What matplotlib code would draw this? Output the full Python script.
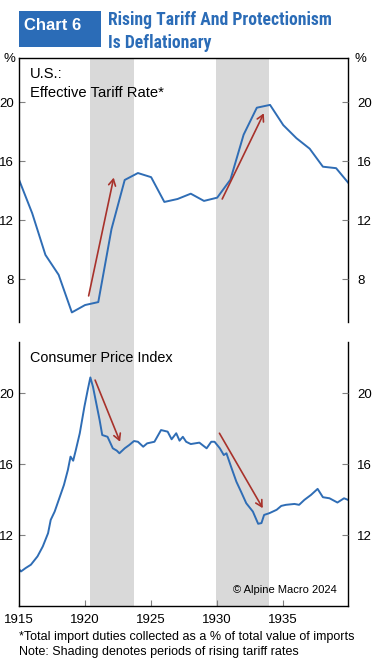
import matplotlib.pyplot as plt
from matplotlib.patches import Rectangle

# effective tariff rate, annual
tariff_years = list(range(1915, 1941))
tariff_rate = [14.75, 12.47, 9.65, 8.3, 5.75, 6.25, 6.45, 11.4, 14.73, 15.2,
               14.92, 13.24, 13.44, 13.8, 13.31, 13.53, 14.75, 17.8, 19.63, 19.82,
               18.45, 17.56, 16.85, 15.63, 15.53, 14.45]

# consumer price index
cpi_time = [1915.0, 1915.15, 1915.5, 1915.9, 1916.4, 1916.8, 1917.2, 1917.4, 1917.7, 1918.05,
            1918.4, 1918.7, 1918.9, 1919.1, 1919.3, 1919.6, 1919.95, 1920.2, 1920.4, 1920.6,
            1920.8, 1921.1, 1921.3, 1921.7, 1922.1, 1922.4, 1922.6, 1923.0, 1923.35, 1923.7,
            1924.0, 1924.4, 1924.7, 1925.25, 1925.75, 1926.25, 1926.55, 1926.9, 1927.15, 1927.4,
            1927.65, 1928.0, 1928.65, 1929.2, 1929.55, 1929.8, 1930.2, 1930.5, 1930.7, 1931.05,
            1931.45, 1931.8, 1932.2, 1932.7, 1933.1, 1933.35, 1933.55, 1933.95, 1934.5, 1934.85,
            1935.2, 1935.85, 1936.2, 1936.6, 1937.1, 1937.6, 1938.0, 1938.5, 1939.1, 1939.6,
            1939.9]
cpi = [10.08, 9.95, 10.14, 10.33, 10.8, 11.36, 12.11, 12.86, 13.33, 14.08,
       14.83, 15.68, 16.43, 16.2, 16.8, 17.75, 19.25, 20.19, 20.9, 20.37,
       19.62, 18.5, 17.65, 17.55, 16.9, 16.77, 16.62, 16.9, 17.09, 17.31,
       17.27, 16.99, 17.18, 17.27, 17.93, 17.84, 17.41, 17.75, 17.33, 17.55,
       17.27, 17.14, 17.22, 16.9, 17.27, 17.27, 16.9, 16.52, 16.62, 15.86,
       15.02, 14.46, 13.8, 13.33, 12.64, 12.68, 13.14, 13.24, 13.43, 13.65,
       13.71, 13.76, 13.71, 13.99, 14.27, 14.61, 14.14, 14.08, 13.84, 14.08,
       13.99]

shade_periods = [(1920.4, 1923.7), (1929.9, 1933.9)]
tariff_arrows = [((1920.27, 6.87), (1922.17, 14.89)), ((1930.38, 13.44), (1933.53, 19.25))]
cpi_arrows = [((1920.76, 20.75), (1922.65, 17.27)), ((1930.17, 17.75), (1933.45, 13.52))]
top_yticks = [8, 12, 16, 20]
bot_yticks = [12, 16, 20]
xticks = [1915, 1920, 1925, 1930, 1935]

blue = '#2F6DB5'
red = '#A8322B'
grey = '#D9D9D9'
plt.rcParams['font.family'] = ['Liberation Sans', 'DejaVu Sans']
narrow = ['Roboto Condensed', 'Liberation Sans']

fig = plt.figure(figsize=(3.9, 6.67), dpi=100)
W, H = 390, 667
def box(x0, y0, x1, y1):
    return [x0 / W, 1 - y1 / H, (x1 - x0) / W, (y1 - y0) / H]

xlim = (1915, 1939.9)

# shading behind both panels
bg = fig.add_axes(box(19, 58, 348, 606))
for a, b in shade_periods:
    bg.axvspan(a, b, color=grey, lw=0)
bg.set_xlim(xlim)
bg.axis('off')

top = fig.add_axes(box(19, 58, 348, 322))
bot = fig.add_axes(box(19, 342, 348, 606))

for ax, yt, ylim in ((top, top_yticks, (5.1, 23.0)), (bot, bot_yticks, (8.0, 22.9))):
    ax.patch.set_alpha(0)
    ax.set_xlim(xlim)
    ax.set_ylim(ylim)
    ax.set_yticks(yt)
    ax.tick_params(axis='y', direction='in', length=4, color='#808080', labelsize=9.5,
                   left=True, right=True, labelleft=True, labelright=False, pad=3.5)
    for s in ax.spines.values():
        s.set_linewidth(1.0)
    # right-hand labels sit a little further out
    rt = ax.twinx()
    rt.set_ylim(ylim)
    rt.set_yticks(yt)
    rt.tick_params(axis='y', direction='in', length=4, color='#808080', labelsize=9.5, pad=6.5)
    for s in rt.spines.values():
        s.set_visible(False)

top.plot(tariff_years, tariff_rate, color=blue, lw=1.4)
top.spines['bottom'].set_visible(False)
top.set_xticks([])
top.text(0.034, 0.965, 'U.S.:\nEffective Tariff Rate*', transform=top.transAxes,
         fontsize=10.6, va='top', ha='left', linespacing=1.4)

bot.plot(cpi_time, cpi, color=blue, lw=1.4)
bot.spines['top'].set_visible(False)
bot.set_xticks(xticks)
bot.tick_params(axis='x', direction='in', length=4, color='#808080', labelsize=9.5, pad=6)
bot.text(0.034, 0.965, 'Consumer Price Index', transform=bot.transAxes,
         fontsize=10.4, va='top', ha='left')
bot.text(0.965, 0.04, '\u00a9 Alpine Macro 2024', transform=bot.transAxes,
         fontsize=8, va='bottom', ha='right')

for ax, arrows in ((top, tariff_arrows), (bot, cpi_arrows)):
    for start, end in arrows:
        ax.annotate('', xy=end, xytext=start,
                    arrowprops=dict(arrowstyle='->,head_length=0.45,head_width=0.25',
                                    color=red, lw=1.2, shrinkA=0, shrinkB=0))

fig.text(9 / W, 1 - 59 / H, '%', fontsize=9.5, ha='center', va='center')
fig.text(360 / W, 1 - 59 / H, '%', fontsize=9.5, ha='center', va='center')

# title block
fig.patches.append(Rectangle((19 / W, 1 - 47 / H), 82 / W, 36 / H, transform=fig.transFigure,
                             facecolor='#2B6CB7', edgecolor='none'))
fig.text(24 / W, 1 - 26 / H, 'Chart 6', color='white', fontsize=12, fontweight='bold',
         ha='left', va='center')
fig.text(108 / W, 1 - 31.5 / H, 'Rising Tariff And Protectionism\nIs Deflationary', color='#2B6CB7',
         fontsize=12.7, fontweight='bold', ha='left', va='center', linespacing=1.33,
         family=narrow)

fig.text(19 / W, 1 - 637 / H, '*Total import duties collected as a % of total value of imports',
         fontsize=9, ha='left', va='center')
fig.text(19 / W, 1 - 652 / H, 'Note: Shading denotes periods of rising tariff rates',
         fontsize=9, ha='left', va='center')

fig.savefig('out.png', dpi=100)
